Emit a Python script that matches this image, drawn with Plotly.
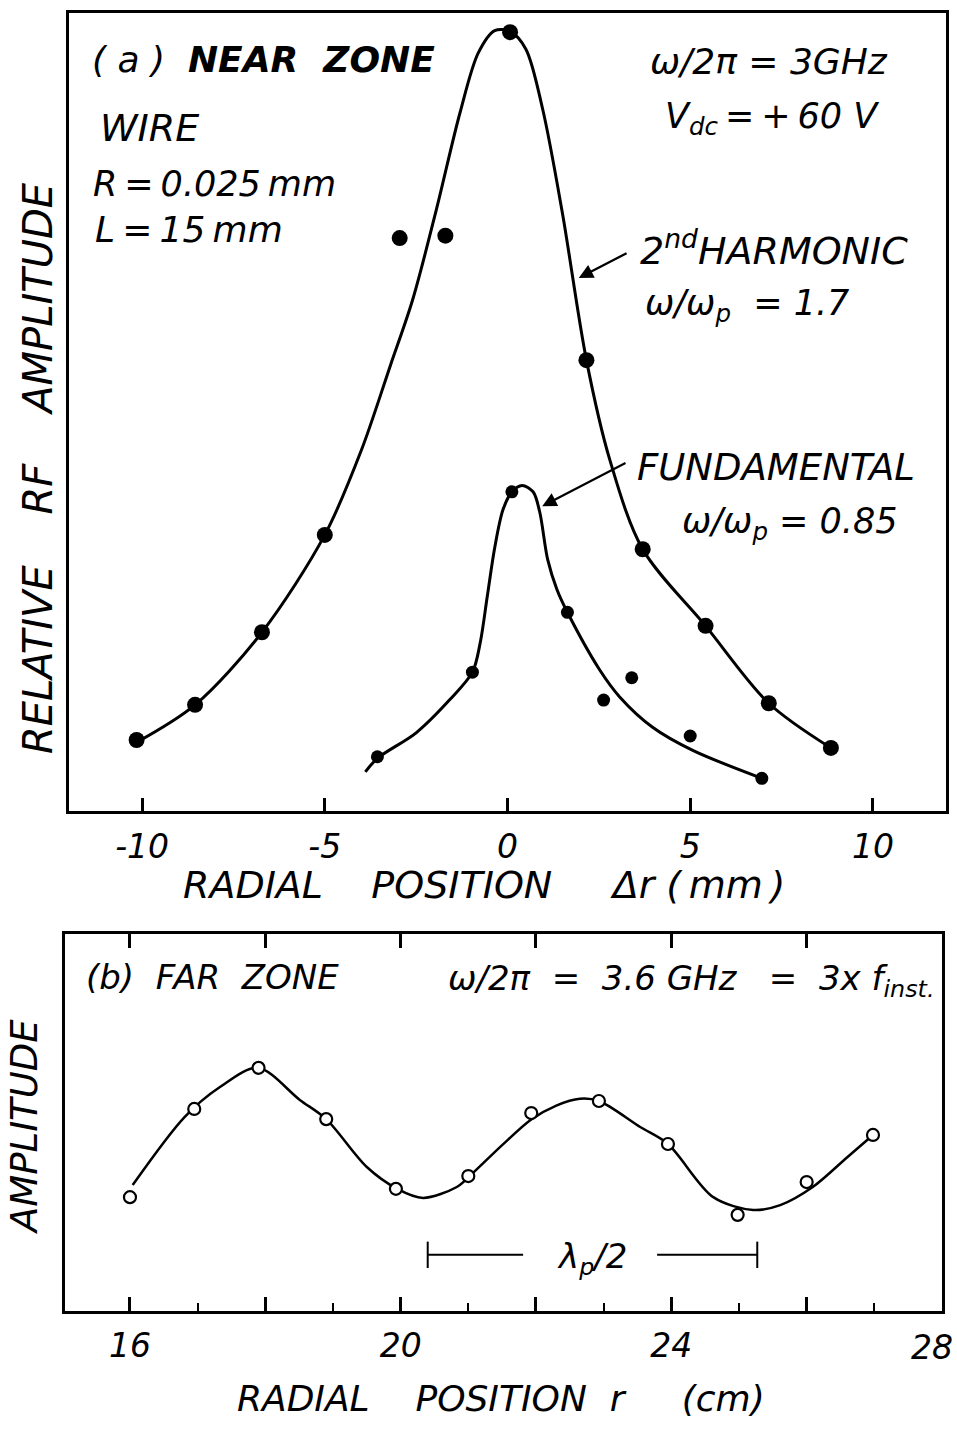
import plotly.graph_objects as go

# ---------------- (a) near zone ----------------
# measured points, 2nd harmonic
harm_x = [-10.15, -8.55, -6.72, -5.0, -2.95, -1.7, 0.07, 2.16, 3.7, 5.42, 7.15, 8.85]
harm_y = [8.9, 13.3, 22.4, 34.6, 71.8, 72.1, 97.6, 56.5, 32.8, 23.2, 13.5, 7.9]
# hand-fitted curve through the 2nd harmonic points
harm_fit_x = [-10.15, -8.55, -6.72, -5.0, -4.0, -3.2, -2.6, -1.95, -1.3, -0.8,
              -0.35, 0.07, 0.5, 0.96, 1.5, 2.16, 2.8, 3.7, 5.42, 7.15, 8.85]
harm_fit_y = [8.6, 13.3, 22.4, 34.6, 45.2, 55.9, 64.0, 75.3, 87.5, 95.0,
              97.8, 97.7, 95.5, 88.0, 75.0, 56.5, 44.0, 32.8, 23.2, 13.5, 7.9]

# measured points, fundamental
fund_x = [-3.56, -0.96, 0.12, 1.64, 2.63, 3.4, 5.0, 6.96]
fund_y = [6.8, 17.4, 40.0, 24.9, 13.9, 16.7, 9.4, 4.1]
# hand-fitted curve through the fundamental points
fund_fit_x = [-3.89, -3.56, -2.5, -1.59, -0.96, -0.75, -0.55, -0.35, -0.12, 0.12,
              0.4, 0.7, 0.88, 1.1, 1.35, 1.64, 2.52, 3.07, 3.97, 5.07, 6.96]
fund_fit_y = [4.9, 6.6, 9.8, 13.9, 17.4, 21.0, 27.0, 33.0, 37.8, 40.0,
              40.8, 40.0, 37.5, 31.5, 27.8, 24.9, 17.7, 14.3, 10.5, 7.6, 4.1]

a_ticks = [-10, -5, 0, 5, 10]
a_ticktext = ["-10", "-5", "0", "5", "10"]

# ---------------- (b) far zone ----------------
far_x = [16.0, 16.95, 17.9, 18.9, 19.93, 21.0, 21.93, 22.93, 23.95, 24.98, 26.0, 26.98]
far_y = [30.2, 53.6, 64.5, 50.9, 32.4, 35.8, 52.5, 55.7, 44.3, 25.5, 34.2, 46.7]
far_fit_x = [16.04, 16.81, 17.33, 17.89, 18.51, 18.9, 19.5, 19.95, 20.33, 20.83, 21.02,
             21.5, 21.93, 22.3, 22.65, 22.93, 23.54, 23.95, 24.62, 25.21, 25.61,
             26.09, 26.6, 26.98]
far_fit_y = [33.4, 51.5, 59.4, 64.5, 56.0, 50.9, 38.2, 32.4, 30.0, 32.9, 35.8,
             44.0, 50.8, 54.5, 56.3, 55.7, 48.8, 44.3, 30.2, 26.8, 28.1,
             32.9, 40.8, 46.7]
b_labelled = [16, 20, 24]
b_labels = ["16", "20", "24"]
b_long = [18, 22, 26]
b_top = [16, 18, 20, 22, 24, 26]
b_minor = [17, 19, 21, 23, 25, 27]
b_last_label = "28"
# half plasma wavelength marker
half_lambda = [20.40, 25.27]
half_lambda_gap = [21.81, 23.79]
half_lambda_level = 14.9

# arrows from the labels to the curves (tail, tip)
harm_arrow_x, harm_arrow_y = [3.3, 1.95], [70.0, 66.8]
fund_arrow_x, fund_arrow_y = [3.27, 0.95], [43.7, 38.2]

FONT = "DejaVu Sans"
W, H = 957, 1431
B_RANGE = [15.04, 28.0]


def px(x):
    return x / W


def py(y):
    return 1 - y / H


fig = go.Figure()

fig.add_trace(go.Scatter(x=harm_fit_x, y=harm_fit_y, mode="lines",
                         line=dict(color="black", width=3, shape="spline", smoothing=0.9),
                         xaxis="x", yaxis="y", hoverinfo="skip"))
fig.add_trace(go.Scatter(x=fund_fit_x, y=fund_fit_y, mode="lines",
                         line=dict(color="black", width=3, shape="spline", smoothing=0.9),
                         xaxis="x", yaxis="y", hoverinfo="skip"))
fig.add_trace(go.Scatter(x=harm_x, y=harm_y, mode="markers",
                         marker=dict(color="black", size=16), xaxis="x", yaxis="y"))
fig.add_trace(go.Scatter(x=fund_x, y=fund_y, mode="markers",
                         marker=dict(color="black", size=13), xaxis="x", yaxis="y"))

fig.add_trace(go.Scatter(x=far_fit_x, y=far_fit_y, mode="lines",
                         line=dict(color="black", width=2.5, shape="spline", smoothing=0.9),
                         xaxis="x2", yaxis="y2", hoverinfo="skip"))
fig.add_trace(go.Scatter(x=far_x, y=far_y, mode="markers",
                         marker=dict(color="white", size=12, line=dict(color="black", width=2.2)),
                         xaxis="x2", yaxis="y2"))

# lambda_p/2 bar
fig.add_trace(go.Scatter(x=[half_lambda[0], half_lambda_gap[0], None, half_lambda_gap[1], half_lambda[1]],
                         y=[half_lambda_level] * 2 + [None] + [half_lambda_level] * 2,
                         mode="lines", line=dict(color="black", width=2),
                         xaxis="x2", yaxis="y2", hoverinfo="skip"))
for xe in half_lambda:
    fig.add_trace(go.Scatter(x=[xe, xe], y=[half_lambda_level - 3.5, half_lambda_level + 3.5],
                             mode="lines", line=dict(color="black", width=2),
                             xaxis="x2", yaxis="y2", hoverinfo="skip"))

# empty traces so the overlay tick axes are drawn
fig.add_trace(go.Scatter(x=[None], y=[None], xaxis="x3", yaxis="y2", hoverinfo="skip"))
fig.add_trace(go.Scatter(x=[None], y=[None], xaxis="x4", yaxis="y2", hoverinfo="skip"))

tickfont = dict(family=FONT, size=33, color="black", style="italic")
noaxis = dict(showgrid=False, zeroline=False)

fig.update_layout(
    width=W, height=H, margin=dict(l=0, r=0, t=0, b=0),
    paper_bgcolor="white", plot_bgcolor="white", showlegend=False,
    font=dict(family=FONT, color="black"),
    xaxis=dict(domain=[px(69), px(946)], range=[-12, 12], anchor="y",
               showline=True, linewidth=3, linecolor="black", mirror=True,
               ticks="inside", ticklen=13, tickwidth=2.5, tickcolor="black",
               tickvals=a_ticks, ticktext=a_ticktext, tickfont=tickfont,
               ticklabelstandoff=4, **noaxis),
    yaxis=dict(domain=[py(811), py(13)], range=[0, 100], anchor="x",
               showline=True, linewidth=3, linecolor="black", mirror=True,
               showticklabels=False, ticks="", **noaxis),
    xaxis2=dict(domain=[px(65), px(942)], range=B_RANGE, anchor="y2",
                showline=True, linewidth=2.5, linecolor="black", mirror=True,
                ticks="inside", ticklen=14, tickwidth=2.5, tickcolor="black",
                tickvals=b_labelled, ticktext=b_labels, tickfont=tickfont,
                ticklabelstandoff=4,
                minor=dict(tickvals=b_minor, ticks="inside", ticklen=8,
                           tickwidth=2.2, tickcolor="black"),
                **noaxis),
    xaxis3=dict(overlaying="x2", side="bottom", anchor="y2", range=B_RANGE,
                matches="x2", ticks="inside", ticklen=14, tickwidth=2.5,
                tickcolor="black", tickvals=b_long, showticklabels=False,
                showline=False, **noaxis),
    xaxis4=dict(overlaying="x2", side="top", anchor="y2", range=B_RANGE,
                matches="x2", ticks="inside", ticklen=14, tickwidth=2.5,
                tickcolor="black", tickvals=b_top, showticklabels=False,
                showline=False, **noaxis),
    yaxis2=dict(domain=[py(1311), py(934)], range=[0, 100], anchor="x2",
                showline=True, linewidth=2.5, linecolor="black", mirror=True,
                showticklabels=False, ticks="", **noaxis),
)

# arrows from the curve labels to the curves
for ax_x, ax_y in [(harm_arrow_x, harm_arrow_y), (fund_arrow_x, fund_arrow_y)]:
    fig.add_annotation(x=ax_x[1], y=ax_y[1], xref="x", yref="y",
                       ax=ax_x[0], ay=ax_y[0], axref="x", ayref="y",
                       text="", showarrow=True, arrowhead=2, arrowsize=1.3,
                       arrowwidth=2.2, arrowcolor="black")

NB = "\u00a0"
TH = "\u2009"


def label(text, x, y, size=36, xanchor="left", angle=0):
    fig.add_annotation(text=text, x=px(x), y=py(y), xref="paper", yref="paper",
                       showarrow=False, xanchor=xanchor, yanchor="middle",
                       textangle=angle,
                       font=dict(family=FONT, size=size, color="black", style="italic"))


# panel (a) labels
label("(" + NB + "a" + NB + ")" + NB * 2 + "<b>NEAR" + NB * 2 + "ZONE</b>", 90, 60, size=36)
label("WIRE", 98, 128, size=38)
label("R" + TH + "=" + TH + "0.025" + TH + "mm", 91, 184, size=35)
label("L" + TH + "=" + TH + "15" + TH + "mm", 93, 230, size=36)
label("ω/2π" + NB + "=" + NB + "3GHz", 648, 62, size=36)
label("V<sub>dc</sub>" + TH + "=" + TH + "+" + TH + "60" + NB + "V", 663, 118, size=35)
label("2<sup>nd</sup>HARMONIC", 638, 248, size=38)
label("ω/ω<sub>p</sub>" + NB * 2 + "=" + NB + "1.7", 643, 306, size=35)
label("FUNDAMENTAL", 635, 467, size=37)
label("ω/ω<sub>p</sub>" + NB + "=" + NB + "0.85", 680, 523, size=35)
label("RELATIVE" + NB * 4 + "RF" + NB * 4 + "AMPLITUDE", 38, 468, size=40,
      angle=-90, xanchor="center")
label("RADIAL" + NB * 4 + "POSITION" + NB * 5 + "Δr" + NB + "(" + TH + "mm" + TH + ")",
      484, 885, size=38, xanchor="center")

# panel (b) labels
label("(b)" + NB * 2 + "FAR" + NB * 2 + "ZONE", 84, 977, size=34)
label("ω/2π" + NB * 2 + "=" + NB * 2 + "3.6" + NB + "GHz" + NB * 3 + "=" + NB * 2 + "3x" + NB
      + "f<sub>inst.</sub>", 446, 980, size=34)
label("AMPLITUDE", 24, 1127, size=37, angle=-90, xanchor="center")
label("RADIAL" + NB * 4 + "POSITION" + NB * 2 + "r" + NB * 5 + "(cm)", 501, 1398, size=36,
      xanchor="center")
label("λ<sub>p</sub>/2", 592, 1258, size=34, xanchor="center")
label(b_last_label, 932, 1347, size=33, xanchor="center")

fig.write_html("out.html")
